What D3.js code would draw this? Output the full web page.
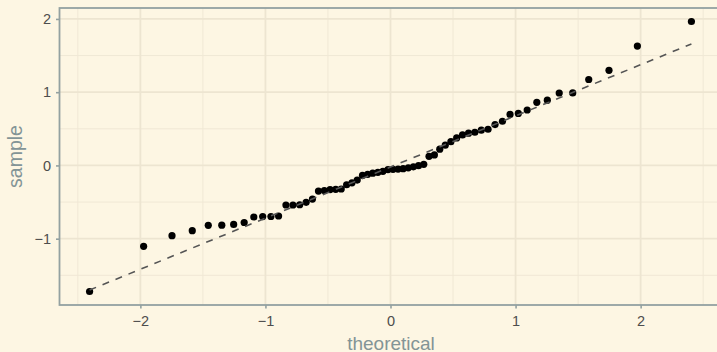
<!DOCTYPE html>
<html>
<head>
<meta charset="utf-8">
<script src="https://cdn.jsdelivr.net/npm/d3@7"></script>
<style>
  html, body { margin: 0; padding: 0; background: #fdf6e3; }
  svg { display: block; }
  text { font-family: "Liberation Sans", Arial, Helvetica, sans-serif; }
</style>
</head>
<body>
<script>
// Normal theoretical quantiles for n = 62 (plotting positions (i - 0.5) / n)
const theoretical = [
  -2.406, -1.974, -1.747, -1.585, -1.457, -1.349, -1.254, -1.170, -1.093, -1.022,
  -0.956, -0.895, -0.836, -0.780, -0.726, -0.6745, -0.624, -0.576, -0.529, -0.483,
  -0.438, -0.394, -0.351, -0.308, -0.266, -0.224, -0.183, -0.142, -0.101, -0.0607,
  -0.0202, 0.0202, 0.0607, 0.101, 0.142, 0.183, 0.224, 0.266, 0.308, 0.351,
  0.394, 0.438, 0.483, 0.529, 0.576, 0.624, 0.6745, 0.726, 0.780, 0.836,
  0.895, 0.956, 1.022, 1.093, 1.170, 1.254, 1.349, 1.457, 1.585, 1.747,
  1.974, 2.406
];

// Sorted sample values
const sample = [
  -1.721, -1.104, -0.959, -0.891, -0.818, -0.816, -0.805, -0.779, -0.704, -0.698,
  -0.697, -0.690, -0.540, -0.540, -0.537, -0.503, -0.459, -0.350, -0.342, -0.330,
  -0.326, -0.322, -0.264, -0.237, -0.200, -0.136, -0.121, -0.105, -0.094, -0.080,
  -0.057, -0.053, -0.049, -0.044, -0.033, -0.019, -0.003, 0.015, 0.124, 0.144,
  0.222, 0.276, 0.325, 0.376, 0.417, 0.440, 0.453, 0.482, 0.494, 0.558,
  0.603, 0.696, 0.710, 0.757, 0.862, 0.891, 0.989, 0.990, 1.173, 1.298,
  1.629, 1.965
];

const xTicks = [-2, -1, 0, 1, 2];
const xMinor = [-2.5, -1.5, -0.5, 0.5, 1.5, 2.5];
const yTicks = [-1, 0, 1, 2];
const yMinor = [-1.5, -0.5, 0.5, 1.5];
const xTitle = "theoretical";
const yTitle = "sample";

const W = 717, H = 352;
const panel = { left: 59.5, right: 721.5, top: 8, bottom: 305 };

const svg = d3.select("body").append("svg")
  .attr("width", W).attr("height", H);

svg.append("rect").attr("width", W).attr("height", H).attr("fill", "#fdf6e3");

// scales with a 5% expansion around the data range
const xExt = d3.extent(theoretical), yExt = d3.extent(sample);
const xPad = (xExt[1] - xExt[0]) * 0.05, yPad = (yExt[1] - yExt[0]) * 0.05;
const x = d3.scaleLinear().domain([xExt[0] - xPad, xExt[1] + xPad]).range([panel.left, panel.right]);
const y = d3.scaleLinear().domain([yExt[0] - yPad, yExt[1] + yPad]).range([panel.bottom, panel.top]);

const grid = svg.append("g");
// minor grid
grid.selectAll(".xmin").data(xMinor).join("line")
  .attr("x1", d => x(d)).attr("x2", d => x(d))
  .attr("y1", panel.top).attr("y2", panel.bottom)
  .attr("stroke", "#f0e8d5").attr("stroke-width", 1);
grid.selectAll(".ymin").data(yMinor).join("line")
  .attr("y1", d => y(d)).attr("y2", d => y(d))
  .attr("x1", panel.left).attr("x2", panel.right)
  .attr("stroke", "#f0e8d5").attr("stroke-width", 1);
// major grid
grid.selectAll(".xmaj").data(xTicks).join("line")
  .attr("x1", d => x(d)).attr("x2", d => x(d))
  .attr("y1", panel.top).attr("y2", panel.bottom)
  .attr("stroke", "#ede5d1").attr("stroke-width", 1.8);
grid.selectAll(".ymaj").data(yTicks).join("line")
  .attr("y1", d => y(d)).attr("y2", d => y(d))
  .attr("x1", panel.left).attr("x2", panel.right)
  .attr("stroke", "#ede5d1").attr("stroke-width", 1.8);

// points
svg.append("g").selectAll("circle").data(sample).join("circle")
  .attr("cx", (d, i) => x(theoretical[i]))
  .attr("cy", d => y(d))
  .attr("r", 3.6)
  .attr("fill", "#000");

// reference line through the first and third quartiles
const q1 = d3.quantile(sample, 0.25), q3 = d3.quantile(sample, 0.75);
const zq = 0.6745;
const slope = (q3 - q1) / (2 * zq);
const intercept = q1 + slope * zq;
svg.append("line")
  .attr("x1", x(xExt[0])).attr("y1", y(intercept + slope * xExt[0]))
  .attr("x2", x(xExt[1])).attr("y2", y(intercept + slope * xExt[1]))
  .attr("stroke", "#555555").attr("stroke-width", 1.6)
  .attr("stroke-dasharray", "7,7");

// panel border
svg.append("rect")
  .attr("x", panel.left).attr("y", panel.top)
  .attr("width", panel.right - panel.left).attr("height", panel.bottom - panel.top)
  .attr("fill", "none").attr("stroke", "#93a1a1").attr("stroke-width", 1.8);

// axes
const xAxis = svg.append("g").attr("transform", `translate(0,${panel.bottom})`)
  .call(d3.axisBottom(x).tickValues(xTicks).tickSize(3.5).tickPadding(7)
    .tickFormat(d => d < 0 ? "\u2212" + Math.abs(d) : d));
const yAxis = svg.append("g").attr("transform", `translate(${panel.left},0)`)
  .call(d3.axisLeft(y).tickValues(yTicks).tickSize(3.5).tickPadding(5)
    .tickFormat(d => d < 0 ? "\u2212" + Math.abs(d) : d));
[xAxis, yAxis].forEach(a => {
  a.select(".domain").remove();
  a.selectAll(".tick line").attr("stroke", "#93a1a1").attr("stroke-width", 1.6);
  a.selectAll(".tick text").attr("fill", "#4d4d4d")
    .style("font-size", "14.5px").style("font-family", "'Liberation Sans', Arial, sans-serif");
});

// axis titles
svg.append("text")
  .attr("x", (panel.left + 721.5) / 2 + 0.5).attr("y", 349.5)
  .attr("text-anchor", "middle")
  .attr("fill", "#839496").style("font-size", "19px")
  .text(xTitle);
svg.append("text")
  .attr("transform", `translate(22,${(panel.top + panel.bottom) / 2}) rotate(-90)`)
  .attr("text-anchor", "middle")
  .attr("fill", "#839496").style("font-size", "19.5px")
  .text(yTitle);
</script>
</body>
</html>
